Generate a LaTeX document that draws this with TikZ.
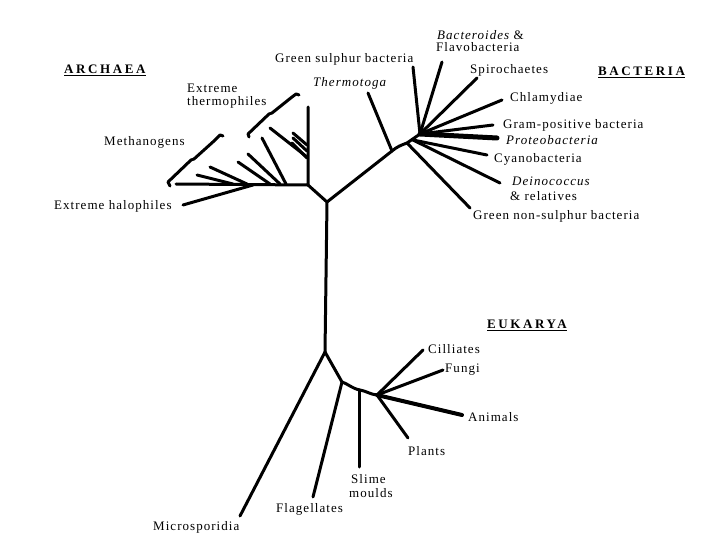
\documentclass[tikz,border=0pt]{standalone}
\usepackage{fontspec}
\setmainfont{Liberation Serif}
\newfontfamily\lab{Liberation Serif}[LetterSpace=8]
\newfontfamily\ttlfont{Liberation Serif}[LetterSpace=20]
\begin{document}
\begin{tikzpicture}[x=1pt,y=-1pt,
  br/.style={line width=3pt, line cap=round, line join=round},
  thick br/.style={line width=5pt, line cap=round},
  lbl/.style={font=\lab\fontsize{13}{14}\selectfont, inner sep=0pt, anchor=west},
  ttl/.style={font=\ttlfont\bfseries\fontsize{13}{14}\selectfont, inner sep=0pt, anchor=west}]
\useasboundingbox[fill=white] (0,0) rectangle (720,540);
% ---------- coordinates ----------
\coordinate (A0) at (308,185);
\coordinate (Atop) at (308,107);
\coordinate (Abase) at (176,184);
\coordinate (C0) at (327,202);
\coordinate (B1) at (392,151);
\coordinate (B2) at (407,143);
\coordinate (Bc) at (420,134);
\coordinate (Bc2) at (413,140);
\coordinate (E0) at (325,352);
\coordinate (E1) at (342,382);
\coordinate (E2) at (360,390);
\coordinate (E3) at (377,395);
% ---------- labels ----------
\node[ttl] (archaea) at (64,70) {\underline{ARCHAEA}};
\node[ttl] (bacteria) at (598,72) {\underline{BACTERIA}};
\node[ttl] (eukarya) at (487,325) {\underline{EUKARYA}};
\node[lbl] (gsb) at (275,59) {Green sulphur bacteria};
\node[lbl] (thermo) at (313,83) {\itshape Thermotoga};
\node[lbl] (bactero) at (437,35) {\itshape Bacteroides \upshape\&};
\node[lbl] (flavo) at (436,47) {Flavobacteria};
\node[lbl] (spiro) at (470,70) {Spirochaetes};
\node[lbl] (chlam) at (510,98) {Chlamydiae};
\node[lbl] (gram) at (503,125) {Gram-positive bacteria};
\node[lbl] (proteo) at (506,140) {\itshape Proteobacteria};
\node[lbl] (cyano) at (494,159) {Cyanobacteria};
\node[lbl] (deino) at (512,181) {\itshape Deinococcus};
\node[lbl] (rel) at (510,196) {\& relatives};
\node[lbl] (gnsb) at (473,216) {Green non-sulphur bacteria};
\node[lbl] (extr) at (187,88) {Extreme};
\node[lbl] (therm) at (187,102) {thermophiles};
\node[lbl] (meth) at (104,142) {Methanogens};
\node[lbl] (halo) at (54,206) {Extreme halophiles};
\node[lbl] (cill) at (428,349) {Cilliates};
\node[lbl] (fungi) at (445,370) {Fungi};
\node[lbl] (anim) at (468,417) {Animals};
\node[lbl] (plants) at (408,451) {Plants};
\node[lbl] (slime) at (351,479) {Slime};
\node[lbl] (moulds) at (349,493) {moulds};
\node[lbl] (flag) at (276,509) {Flagellates};
\node[lbl] (micro) at (153,527) {Microsporidia};
% ---------- end points ----------
\coordinate (Hal) at (183,205);
\coordinate (Hal2) at (253,185);
\coordinate (gsbE) at (413,67);
\coordinate (bactE) at (442,62);
\coordinate (spiroE) at (477,78);
\coordinate (chlamE) at (502,100);
\coordinate (gramE) at (493,125);
\coordinate (proteoE) at (497,138);
\coordinate (cyanoE) at (487,155);
\coordinate (deinoE) at (500,183);
\coordinate (gnsbE) at (470,208);
\coordinate (thermoE) at (368,93);
\coordinate (microE) at (240,516);
\coordinate (flagE) at (313,497);
\coordinate (slimeT) at (359,390);
\coordinate (slimeE) at (359,467);
\coordinate (cillE) at (423,350);
\coordinate (fungiE) at (443,370);
\coordinate (animE) at (462,415);
\coordinate (plantsE) at (408,438);
% ---------- archaea ----------
\draw[br] (Atop) -- (A0) -- (Abase);
\draw[br] (Hal) -- (Hal2);
\draw[br] (197,175) -- (233,184);
\draw[br] (210,167) -- (247,184);
\draw[br] (238,162) -- (270,184);
\draw[br] (248,154) -- (280,184);
\draw[br] (262,138) -- (286,184);
\draw[br] (270,128) -- (307,157);
\draw[br] (293,133) -- (307,145);
\draw[br] (293,138) -- (307,151);
\draw[br] (292,143) -- (307,158);
% methanogen bracket
\draw[br] (170,186) -- (168,182) -- (191,160) -- (194,159) -- (214,141) -- (220,135) -- (223,136);
% thermophile bracket
\draw[br] (249,137) -- (248,134) -- (269,114) -- (272,113) -- (292,97) -- (296,94) -- (299,95);
% ---------- central ----------
\draw[br] (A0) -- (C0) -- (E0);
\draw[br] (C0) -- (B1) to[out=40,in=200] (B2) -- (Bc);
\draw[br] (B1) -- (thermoE);
% ---------- bacteria ----------
\draw[br] (Bc) -- (gsbE);
\draw[br] (Bc) -- (bactE);
\draw[br] (Bc) -- (spiroE);
\draw[br] (Bc) -- (chlamE);
\draw[br] (Bc) -- (gramE);
\draw[thick br] (Bc) -- (proteoE);
\draw[br] (Bc2) -- (cyanoE);
\draw[br] (Bc2) -- (deinoE);
\draw[br] (B2) -- (gnsbE);
% ---------- eukarya ----------
\draw[br] (E0) -- (microE);
\draw[br] (E0) -- (E1) to[out=-20,in=170] (E2) to[out=-10,in=175] (E3);
\draw[br] (E1) -- (flagE);
\draw[br] (slimeT) -- (slimeE);
\draw[br] (E3) -- (cillE);
\draw[br] (E3) -- (fungiE);
\draw[line width=4pt, line cap=round] (E3) -- (animE);
\draw[br] (E3) -- (plantsE);
\end{tikzpicture}
\end{document}
